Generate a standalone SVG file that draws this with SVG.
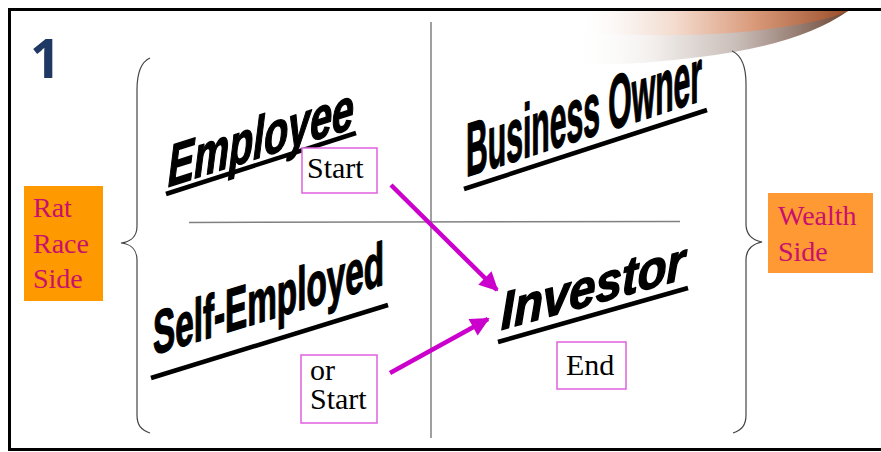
<svg xmlns="http://www.w3.org/2000/svg" width="881" height="452" viewBox="0 0 881 452">
<style>
.div{stroke:#808080;stroke-width:1.5;fill:none}
.brace{stroke:#444;stroke-width:1.2;fill:none}
.wa{font-family:"Liberation Sans",Arial,sans-serif;font-weight:bold;fill:#000;stroke:#000;stroke-width:1.5;stroke-linejoin:round}
.ul{stroke:#000;stroke-width:4.5;stroke-linecap:butt}
.box{fill:#fff;stroke:#e060e0;stroke-width:1.5}
.bt{font-family:"Liberation Serif","Times New Roman",serif;font-size:30px;fill:#000}
.side{font-family:"Liberation Serif","Times New Roman",serif;font-size:28px;fill:#c8106e}
.arr{stroke:#cc00cc;stroke-width:4.5;fill:none}
</style>
<defs>
<linearGradient id="sw1" x1="572" y1="0" x2="848" y2="0" gradientUnits="userSpaceOnUse">
<stop offset="0" stop-color="#ffffff" stop-opacity="0"/>
<stop offset="0.3" stop-color="#f2eeec"/>
<stop offset="0.6" stop-color="#c9bdb8"/>
<stop offset="0.85" stop-color="#8f7468"/>
<stop offset="1" stop-color="#6e4430"/>
</linearGradient>
<linearGradient id="sw2" x1="580" y1="0" x2="848" y2="0" gradientUnits="userSpaceOnUse">
<stop offset="0" stop-color="#ffffff" stop-opacity="0"/>
<stop offset="0.35" stop-color="#f4dccf"/>
<stop offset="0.65" stop-color="#d99a7a"/>
<stop offset="1" stop-color="#9a4e2a"/>
</linearGradient>
<marker id="ah" viewBox="0 0 10 10" refX="9" refY="5" markerWidth="5" markerHeight="4.2" markerUnits="strokeWidth" orient="auto">
<path d="M0,0 L10,5 L0,10 Z" fill="#cc00cc"/>
</marker>
</defs>
<rect width="881" height="452" fill="#fff"/>
<g id="swoosh">
<path d="M572,11 L848,11 Q800,45 700,57 Q630,66 576,64 Z" fill="url(#sw1)"/>
<path d="M582,11 L848,11 Q815,26 730,33 Q660,38 585,32 Z" fill="url(#sw2)"/>
</g>
<rect x="9.5" y="9.5" width="880" height="440" fill="none" stroke="#000" stroke-width="3"/>
<g id="number"><text x="30" y="78" font-family="'Open Sans','Noto Sans',sans-serif" font-weight="bold" font-size="54" fill="#1f3864">1</text></g>
<g id="dividers">
<line class="div" x1="431" y1="22" x2="431" y2="438"/>
<line class="div" x1="189" y1="222.5" x2="680" y2="221.5"/>
</g>
<g id="braces">
<path class="brace" d="M150,58 C141,62 137,74 137,90 L137,226 C137,236 131,242 121,243 C131,244 137,250 137,260 L137,415 C137,425 141,430 150,433"/>
<path class="brace" d="M732,51 C741,55 746,67 746,84 L746,224 C746,234 752,240 762,242 C752,244 746,250 746,260 L746,415 C746,425 742,430 733,433"/>
</g>
<g id="rat-race-side">
<rect x="24" y="186" width="79" height="115" fill="#ff9900"/>
<text class="side" x="33" y="217">Rat</text>
<text class="side" x="33" y="253">Race</text>
<text class="side" x="33" y="288">Side</text>
</g>
<g id="wealth-side">
<rect x="768" y="193" width="105" height="80" fill="#ff9933"/>
<text class="side" x="778" y="225">Wealth</text>
<text class="side" x="778" y="261">Side</text>
</g>
<g id="employee">
<text class="wa" transform="translate(168,187) skewY(-17.7)" font-size="59" font-style="italic" textLength="186" lengthAdjust="spacingAndGlyphs">Employee</text>
<line class="ul" x1="166" y1="194" x2="356" y2="133"/>
<rect class="box" x="302" y="148" width="75" height="45"/>
<text class="bt" x="307" y="178">Start</text>
</g>
<g id="business-owner">
<text class="wa" transform="translate(466,177) skewY(-18)" font-size="76" textLength="236" lengthAdjust="spacingAndGlyphs">Business Owner</text>
<line class="ul" x1="464" y1="189" x2="707" y2="110"/>
</g>
<g id="self-employed">
<text class="wa" transform="translate(153,355) skewY(-17)" font-size="61" textLength="231" lengthAdjust="spacingAndGlyphs">Self-Employed</text>
<line class="ul" x1="151" y1="378" x2="388" y2="305"/>
<rect class="box" x="301" y="355" width="76" height="68"/>
<text class="bt" x="310" y="380" font-size="29">or</text>
<text class="bt" x="310" y="409" font-size="29">Start</text>
</g>
<g id="investor">
<text class="wa" transform="translate(501,330) skewY(-15.6)" font-size="53" font-style="italic" textLength="184" lengthAdjust="spacingAndGlyphs">Investor</text>
<line class="ul" x1="498" y1="342" x2="688" y2="288"/>
<rect class="box" x="557" y="342" width="69" height="47"/>
<text class="bt" x="566" y="375">End</text>
</g>
<g id="connectors">
<line class="arr" x1="391" y1="185" x2="497" y2="290" marker-end="url(#ah)"/>
<line class="arr" x1="390" y1="373" x2="488" y2="319" marker-end="url(#ah)"/>
</g>
</svg>
